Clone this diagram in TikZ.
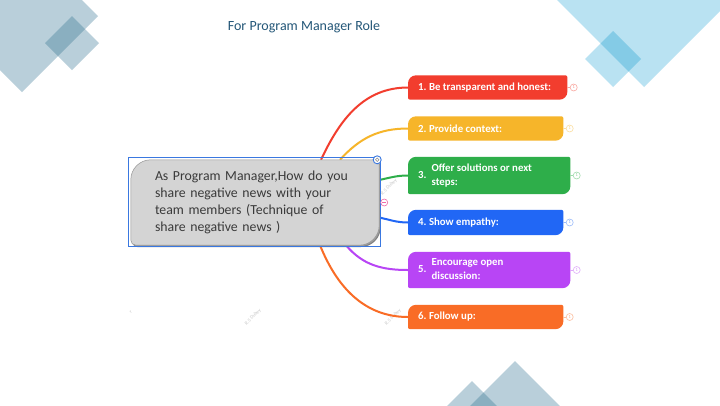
\documentclass[tikz,border=0pt]{standalone}
\usepackage{fontspec}
\setmainfont{Carlito}
\usetikzlibrary{calc}
\frenchspacing
\pgfdeclarelayer{deco}
\pgfdeclarelayer{bg}
\pgfsetlayers{deco,bg,main}
\definecolor{decoA}{HTML}{B9CFDA}
\definecolor{decoAd}{HTML}{8AAFC0}
\definecolor{decoB}{HTML}{B9E2F2}
\definecolor{decoBd}{HTML}{84CBE6}
\definecolor{ttl}{HTML}{245778}
\definecolor{cRed}{HTML}{F23D2E}
\definecolor{cYel}{HTML}{F6B52A}
\definecolor{cGrn}{HTML}{2EAE4A}
\definecolor{cBlu}{HTML}{2167F5}
\definecolor{cPur}{HTML}{B845F5}
\definecolor{cOra}{HTML}{F96C26}
\definecolor{selblue}{HTML}{3A78E0}
\definecolor{cgray}{HTML}{D4D4D4}
\definecolor{ctext}{HTML}{3A3A3A}
\definecolor{mpink}{HTML}{F06AA8}
% rounded box behind a node: node, fill options, big radius, small radius, offset
\newcommand{\tshape}[5]{%
  \path[#2] ([shift={(#5)}]#1.west) [rounded corners=#3] -- ([shift={(#5)}]#1.north west) -- ([shift={(#5)}]#1.north)
    [rounded corners=#4] -- ([shift={(#5)}]#1.north east) -- ([shift={(#5)}]#1.east)
    [rounded corners=#3] -- ([shift={(#5)}]#1.south east) -- ([shift={(#5)}]#1.south)
    [rounded corners=#4] -- ([shift={(#5)}]#1.south west) -- cycle;}
% small count marker at the right of a topic
\newcommand{\tmark}[3]{%
  \draw[#2!45, line width=0.6pt] (#1.east) -- ++(2.5,0) coordinate (#3);
  \node[circle, draw=#2!45, line width=0.6pt, fill=white, inner sep=0pt, minimum size=7pt,
        font=\fontsize{4.5}{5}\selectfont, text=#2!60, anchor=west] (#3n) at (#3) {1};}
\tikzset{
  topic/.style={inner xsep=10pt, inner ysep=0pt, text=white,
    font=\bfseries\fontsize{10.8}{14}\selectfont\frenchspacing, anchor=west},
  branch/.style={line width=2pt},
  wmark/.style={text=black!22, font=\fontsize{5}{6}\selectfont, rotate=45, inner sep=0pt}
}
\begin{document}
\begin{tikzpicture}[x=1pt,y=1pt]
\useasboundingbox (0,0) rectangle (720,-405);
\begin{pgfonlayer}{deco}
 \fill[white] (0,0) rectangle (720,-405);
 % top-left
 \fill[decoA] (22,60) -- (98,-16) -- (22,-92) -- (-54,-16) -- cycle;
 \fill[decoA] (72,-16) -- (99,-43) -- (72,-70) -- (45,-43) -- cycle;
 \begin{scope}
  \clip (22,60) -- (98,-16) -- (22,-92) -- (-54,-16) -- cycle;
  \fill[decoAd] (72,-16) -- (99,-43) -- (72,-70) -- (45,-43) -- cycle;
 \end{scope}
 % top-right
 \fill[decoB] (644,139) -- (757,26) -- (644,-87) -- (531,26) -- cycle;
 \fill[decoB] (613,-31) -- (641,-59) -- (613,-87) -- (585,-59) -- cycle;
 \begin{scope}
  \clip (644,139) -- (757,26) -- (644,-87) -- (531,26) -- cycle;
  \fill[decoBd] (613,-31) -- (641,-59) -- (613,-87) -- (585,-59) -- cycle;
 \end{scope}
 % bottom
 \fill[decoA] (515,-361) -- (575,-421) -- (515,-481) -- (455,-421) -- cycle;
 \fill[decoA] (472,-381) -- (507,-416) -- (472,-451) -- (437,-416) -- cycle;
 \begin{scope}
  \clip (515,-361) -- (575,-421) -- (515,-481) -- (455,-421) -- cycle;
  \fill[decoAd] (472,-381) -- (507,-416) -- (472,-451) -- (437,-416) -- cycle;
 \end{scope}
 % watermarks
 \node[wmark] (w1) at (131,-312) {r};
 \node[wmark] (w2) at (253,-317) {R.S Dubey};
 \node[wmark] (w3) at (393,-317) {R.S Dubey};
 \node[wmark] (w4) at (389,-187) {R.S Dubey};
\end{pgfonlayer}

% title
\node[text=ttl, font=\fontsize{14}{16}\selectfont] (title) at (304,-27) {For Program Manager Role};

% central node
\node[minimum width=248pt, minimum height=85pt, inner xsep=0pt, inner ysep=0pt, text width=200pt,
      align=left, text=ctext, font=\fontsize{13.8}{17}\selectfont] (c) at (255,-202.5)
  {As Program Manager,How do you share negative news with your team members (Technique of share negative news )};

% topics
\node[topic, minimum height=24pt] (t1) at (408,-87.5) {\makebox[139pt][l]{1. Be transparent and honest:}};
\node[topic, minimum height=24pt] (t2) at (408,-128.5) {\makebox[135pt][l]{2. Provide context:}};
\node[topic, minimum height=37pt] (t3) at (408,-175.5)
  {\makebox[142pt][l]{3.\hspace{5pt}\begin{tabular}[c]{@{}l@{}}Offer solutions or next\\steps:\end{tabular}}};
\node[topic, minimum height=25pt] (t4) at (408,-222.5) {\makebox[135pt][l]{4. Show empathy:}};
\node[topic, minimum height=36pt] (t5) at (408,-270)
  {\makebox[142pt][l]{5.\hspace{5pt}\begin{tabular}[c]{@{}l@{}}Encourage open\\discussion:\end{tabular}}};
\node[topic, minimum height=24pt] (t6) at (408,-317) {\makebox[135pt][l]{6. Follow up:}};

\begin{pgfonlayer}{bg}
 % branches
 \draw[branch, cRed] ([xshift=66pt]c.north) to[out=65,in=180] (t1.west);
 \draw[branch, cYel] ([xshift=85pt]c.north) to[out=48,in=180] (t2.west);
 \draw[branch, cGrn] ([yshift=22.5pt]c.east) to[out=12,in=180] (t3.west);
 \draw[branch, cBlu] ([yshift=-15pt]c.east) to[out=-12,in=180] (t4.west);
 \draw[branch, cPur] ([xshift=91pt]c.south) to[out=-50,in=180] (t5.west);
 \draw[branch, cOra] ([xshift=65pt]c.south) to[out=-68,in=180] (t6.west);
 % central shape
 \tshape{c}{fill=black!50}{20pt}{5pt}{1.6,-1.8}
 \tshape{c}{fill=black!38}{20pt}{5pt}{0.8,-0.9}
 \tshape{c}{fill=cgray, draw=black!42, line width=0.5pt}{20pt}{5pt}{0,0}
 % topic shapes
 \tshape{t1}{fill=cRed}{8pt}{2pt}{0,0}
 \tshape{t2}{fill=cYel}{8pt}{2pt}{0,0}
 \tshape{t3}{fill=cGrn}{8pt}{2pt}{0,0}
 \tshape{t4}{fill=cBlu}{8pt}{2pt}{0,0}
 \tshape{t5}{fill=cPur}{8pt}{2pt}{0,0}
 \tshape{t6}{fill=cOra}{8pt}{2pt}{0,0}
\end{pgfonlayer}

% selection frame and handles
\draw[selblue, line width=0.8pt] ([shift={(-2,2)}]c.north west) rectangle ([shift={(1,-1)}]c.south east);
\node[circle, draw=selblue, line width=0.9pt, fill=white, inner sep=0pt, minimum size=8pt] (h1) at ([shift={(-2,0)}]c.north east) {};
\node[circle, draw=black!45, line width=0.5pt, inner sep=0pt, minimum size=3.5pt] at (h1) {};
\node[circle, draw=mpink, line width=0.6pt, fill=white, inner sep=0pt, minimum size=7pt] (h2) at ([xshift=5pt]c.east) {};
\draw[mpink, line width=0.6pt] ([xshift=-1.8pt]h2.center) -- ([xshift=1.8pt]h2.center);

% count markers
\tmark{t1}{cRed}{m1}
\tmark{t2}{cYel}{m2}
\tmark{t3}{cGrn}{m3}
\tmark{t4}{cBlu}{m4}
\tmark{t5}{cPur}{m5}
\tmark{t6}{cOra}{m6}
\end{tikzpicture}
\end{document}
